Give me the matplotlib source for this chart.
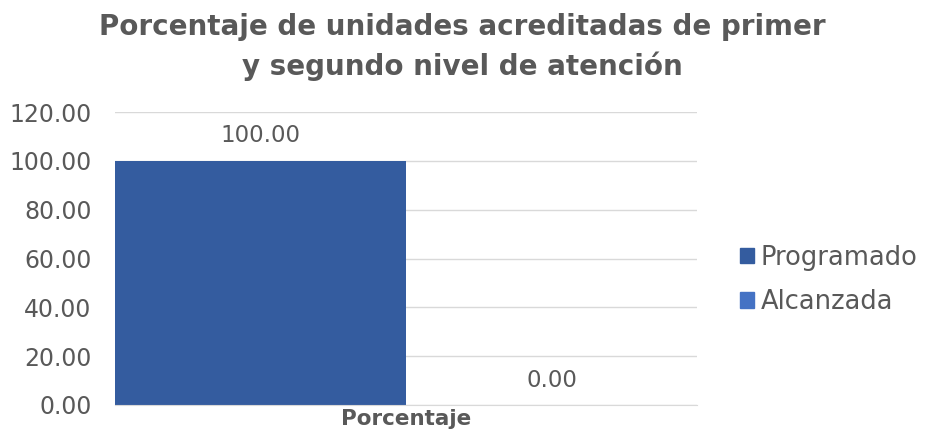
import matplotlib
matplotlib.use("Agg")
import matplotlib.pyplot as plt
from matplotlib.patches import Patch

categories = ["Porcentaje"]
series_names = ["Programado", "Alcanzada"]
series_values = [[100.00], [0.00]]
colors = ["#345C9F", "#4472C4"]
yticks = [0, 20, 40, 60, 80, 100, 120]
title = "Porcentaje de unidades acreditadas de primer\ny segundo nivel de atención"

plt.rcParams['font.family'] = ['DejaVu Sans']
txt = "#595959"

fig = plt.figure(figsize=(9.25, 4.41), dpi=100)
ax = fig.add_axes([115/925, 1-405/441, (697-115)/925, (405-112)/441])

offsets = [-0.5, 0.5]
for i, (name, vals) in enumerate(zip(series_names, series_values)):
    for j, v in enumerate(vals):
        x = j + offsets[i]
        ax.bar(x, v, width=1.0, color=colors[i], zorder=3)
        ax.text(x, v + 5.5, f"{v:.2f}", ha="center", va="bottom", fontsize=16.5, color=txt, zorder=4)

ax.set_xlim(-1, 1)
ax.set_ylim(0, 120)
ax.set_yticks(yticks)
ax.set_yticklabels([f"{t:.2f}" for t in yticks], fontsize=17, color=txt)
ax.set_xticks(range(len(categories)))
ax.set_xticklabels(categories, fontsize=15.5, fontweight="bold", color=txt)
ax.tick_params(axis="both", length=0)
ax.tick_params(axis="x", pad=3)
ax.tick_params(axis="y", pad=17)
ax.grid(axis="y", color="#D9D9D9", linewidth=1, zorder=0)
for s in ["top", "right", "left"]:
    ax.spines[s].set_visible(False)
ax.spines["bottom"].set_color("#D9D9D9")
ax.spines["bottom"].set_zorder(5)

handles = [Patch(color=c, label=n) for c, n in zip(colors, series_names)]
leg = fig.legend(handles=handles, loc="center left", bbox_to_anchor=(727/925, 1-280/441),
                 frameon=False, fontsize=18.5, handlelength=0.55, handleheight=0.55,
                 handletextpad=0.25, labelspacing=0.72, labelcolor=txt, borderpad=0)

fig.text(0.5, 1-47/441, title, ha="center", va="center", fontsize=20, fontweight="bold",
         color=txt, linespacing=1.45)

fig.savefig("out.png", dpi=100)
